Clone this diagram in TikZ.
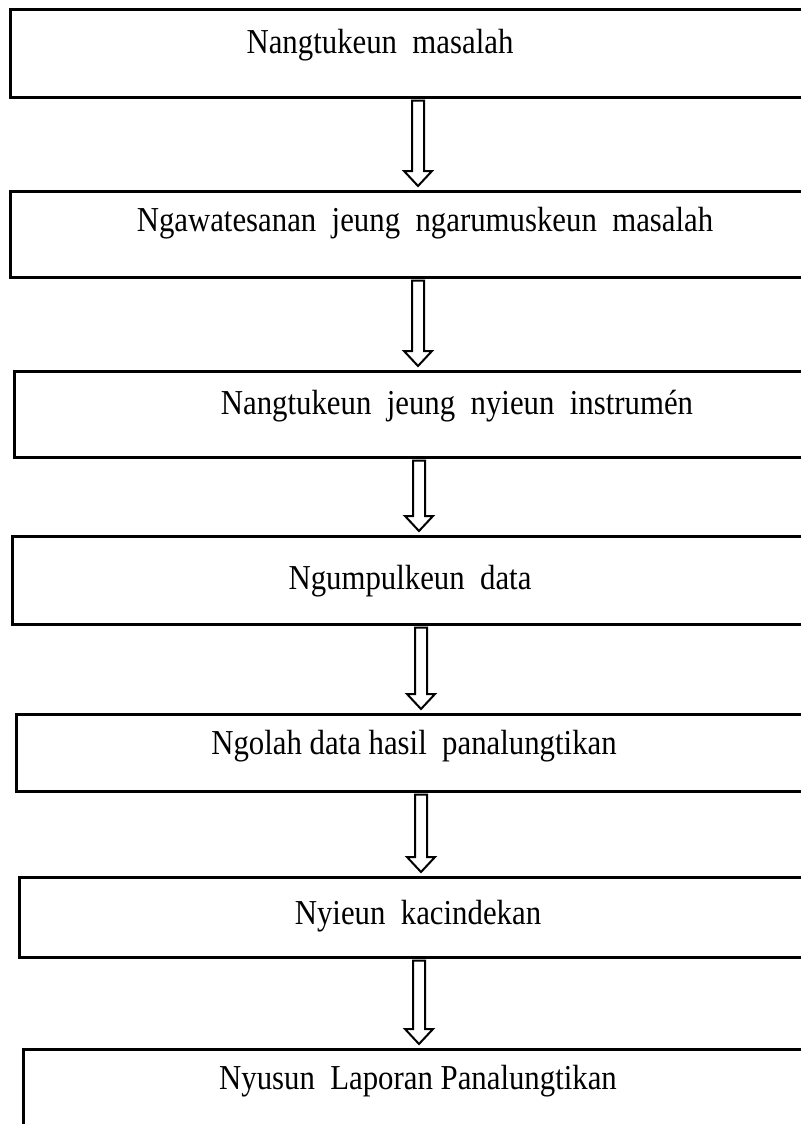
\documentclass[tikz,border=0pt]{standalone}
\usepackage{fontspec}
\setmainfont{Liberation Serif}[FakeStretch=0.88]
\usetikzlibrary{calc}
\begin{document}
\begin{tikzpicture}[x=0.5pt,y=-0.5pt,
  stepbox/.style={draw=black,line width=1.3pt,rectangle,anchor=north west,inner sep=0pt,minimum width=820*0.5pt},
  steptext/.style={anchor=base,inner sep=0pt,font=\fontsize{17.5}{21}\selectfont},
  hollowarrow/.style={draw=black,line width=1pt,fill=white,line join=miter}]
\useasboundingbox (0,0) rectangle (801,1124);
\clip (0,0) rectangle (801,1124);
% boxes
\node[stepbox,minimum height=88*0.5pt] (b1) at (9,8) {};
\node[stepbox,minimum height=86*0.5pt] (b2) at (9,190) {};
\node[stepbox,minimum height=86*0.5pt] (b3) at (13,370) {};
\node[stepbox,minimum height=88*0.5pt] (b4) at (11,535) {};
\node[stepbox,minimum height=77*0.5pt] (b5) at (15,713) {};
\node[stepbox,minimum height=80*0.5pt] (b6) at (18,876) {};
\node[stepbox,minimum height=120*0.5pt] (b7) at (22,1048) {};
% texts
\node[steptext] (t1) at (380,53) {Nangtukeun\ \ masalah};
\node[steptext] (t2) at (425,231) {Ngawatesanan\ \ jeung\ \ ngarumuskeun\ \ masalah};
\node[steptext] (t3) at (457,414) {Nangtukeun\ \ jeung\ \ nyieun\ \ instrumén};
\node[steptext] (t4) at (410,589) {Ngumpulkeun\ \ data};
\node[steptext] (t5) at (414,754) {Ngolah data hasil\ \ panalungtikan};
\node[steptext] (t6) at (418,924) {Nyieun\ \ kacindekan};
\node[steptext] (t7) at (418,1089) {Nyusun\ \ Laporan Panalungtikan};
% arrow x positions
\coordinate (ax1) at (418,0);
\coordinate (ax2) at (418,0);
\coordinate (ax3) at (419,0);
\coordinate (ax4) at (421,0);
\coordinate (ax5) at (421,0);
\coordinate (ax6) at (419,0);
\foreach \i/\j in {1/2,2/3,3/4,4/5,5/6,6/7}{
  \coordinate (s) at ($(b\i.south -| ax\i)+(0,2)$);
  \coordinate (e) at ($(b\j.north -| ax\i)+(0,-4)$);
  \draw[hollowarrow] ($(s)+(-6,0)$) -- ($(e)+(-6,-15)$) -- ($(e)+(-14,-15)$) -- (e)
     -- ($(e)+(14,-15)$) -- ($(e)+(6,-15)$) -- ($(s)+(6,0)$) -- cycle;
}
\end{tikzpicture}
\end{document}
